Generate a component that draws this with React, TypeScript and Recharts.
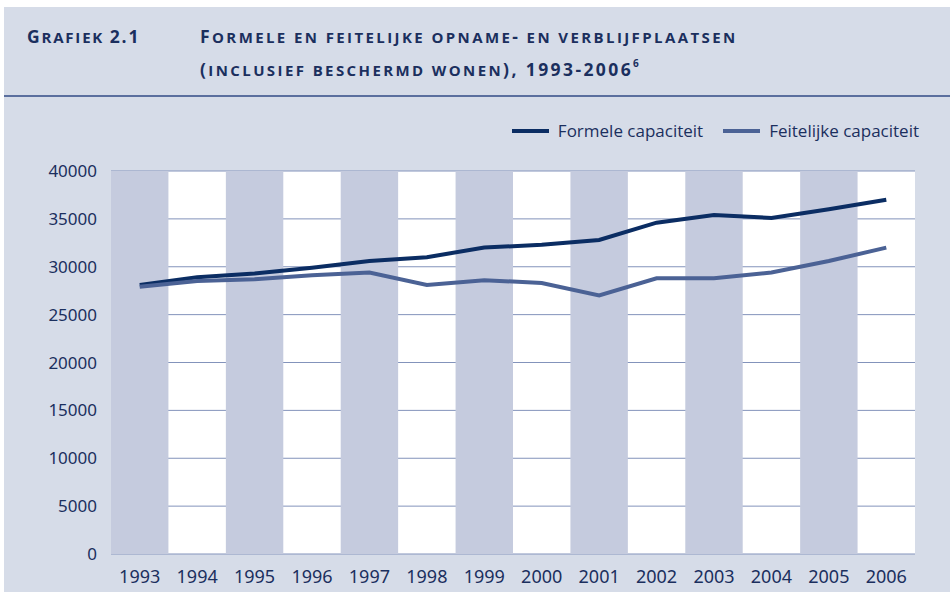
import { ComposedChart, Line, XAxis, YAxis, CartesianGrid, ReferenceArea, Legend } from 'recharts'

const years = ['1993', '1994', '1995', '1996', '1997', '1998', '1999', '2000', '2001', '2002', '2003', '2004', '2005', '2006']
const formele = [28100, 28900, 29300, 29900, 30600, 31000, 32000, 32300, 32800, 34600, 35400, 35100, 36000, 37000]
const feitelijke = [27900, 28500, 28700, 29100, 29400, 28100, 28600, 28300, 27000, 28800, 28800, 29400, 30600, 32000]
const yTicks = [0, 5000, 10000, 15000, 20000, 25000, 30000, 35000, 40000]

const BG = '#d6dce8'
const BAND = '#c5cbde'
const TEXT = '#1b2f5e'
const DARK = '#0b2d63'
const MID = '#4b6295'

const data = years.map((year, i) => ({ year, formele: formele[i], feitelijke: feitelijke[i] }))
// every other year gets a shaded column
const shaded = years.filter((_, i) => i % 2 === 0)

const series = [
  { key: 'formele', name: 'Formele capaciteit', color: DARK },
  { key: 'feitelijke', name: 'Feitelijke capaciteit', color: MID },
]

// hand-made small caps: lowercase runs get uppercased at a smaller size
function SmallCaps({ text }: { text: string }) {
  const parts = text.match(/[a-z ]+|[^a-z ]+/g) || []
  return (
    <>
      {parts.map((p, i) =>
        /[a-z]/.test(p) ? <span key={i} style={{ fontSize: 15, textTransform: 'uppercase' }}>{p}</span> : <span key={i}>{p}</span>
      )}
    </>
  )
}

const renderLegend = () => (
  <div style={{ display: 'flex', justifyContent: 'flex-end', gap: 20, fontFamily: "'Open Sans', sans-serif", fontSize: 17, color: TEXT }}>
    {series.map(s => (
      <div key={s.key} style={{ display: 'flex', alignItems: 'center' }}>
        <span style={{ display: 'inline-block', width: 37, height: 4, background: s.color, marginRight: 9 }} />
        {s.name}
      </div>
    ))}
  </div>
)

export default function App() {
  return (
    <div style={{ position: 'absolute', left: 4, top: 7, width: 946, height: 585, background: BG }}>
      <div style={{ height: 88, borderBottom: '2px solid #5b6f9e', position: 'relative', fontFamily: "'Open Sans', sans-serif", fontWeight: 700, color: TEXT, fontSize: 17.5, letterSpacing: 2.4, whiteSpace: 'nowrap', lineHeight: '32px' }}>
        <div style={{ position: 'absolute', left: 23, top: 13, letterSpacing: 1.8 }}><SmallCaps text="Grafiek 2.1" /></div>
        <div style={{ position: 'absolute', left: 196, top: 13 }}>
          <div><SmallCaps text="Formele en feitelijke opname- en verblijfplaatsen" /></div>
          <div>
            <SmallCaps text="(inclusief beschermd wonen), 1993-2006" />
            <span style={{ fontSize: 10, position: 'relative', top: -9, letterSpacing: 0 }}>6</span>
          </div>
        </div>
      </div>
      <ComposedChart width={946} height={495} data={data} margin={{ top: 51, right: 35, bottom: 0, left: 7 }}>
        <CartesianGrid vertical={false} horizontal={false} fill="#ffffff" />
        {shaded.map(y => (
          <ReferenceArea key={y} x1={y} x2={y} fill={BAND} fillOpacity={1} stroke="none" />
        ))}
        <CartesianGrid vertical={false} stroke="#8393bb" strokeOpacity={1} />
        <XAxis dataKey="year" scale="band" axisLine={false} tickLine={false} tickMargin={10} height={38}
          tick={{ fill: TEXT, fontSize: 18, fontFamily: "'Noto Sans', sans-serif" }} />
        <YAxis domain={[0, 40000]} ticks={yTicks} axisLine={false} tickLine={false} tickSize={0} tickMargin={14} width={100}
          tick={{ fill: TEXT, fontSize: 17, fontFamily: "'Noto Sans', sans-serif" }} />
        <Legend verticalAlign="top" align="right" content={renderLegend} wrapperStyle={{ top: 22, right: 31 }} />
        {series.map(s => (
          <Line key={s.key} dataKey={s.key} name={s.name} stroke={s.color} strokeWidth={4} dot={false} isAnimationActive={false} />
        ))}
      </ComposedChart>
    </div>
  )
}
